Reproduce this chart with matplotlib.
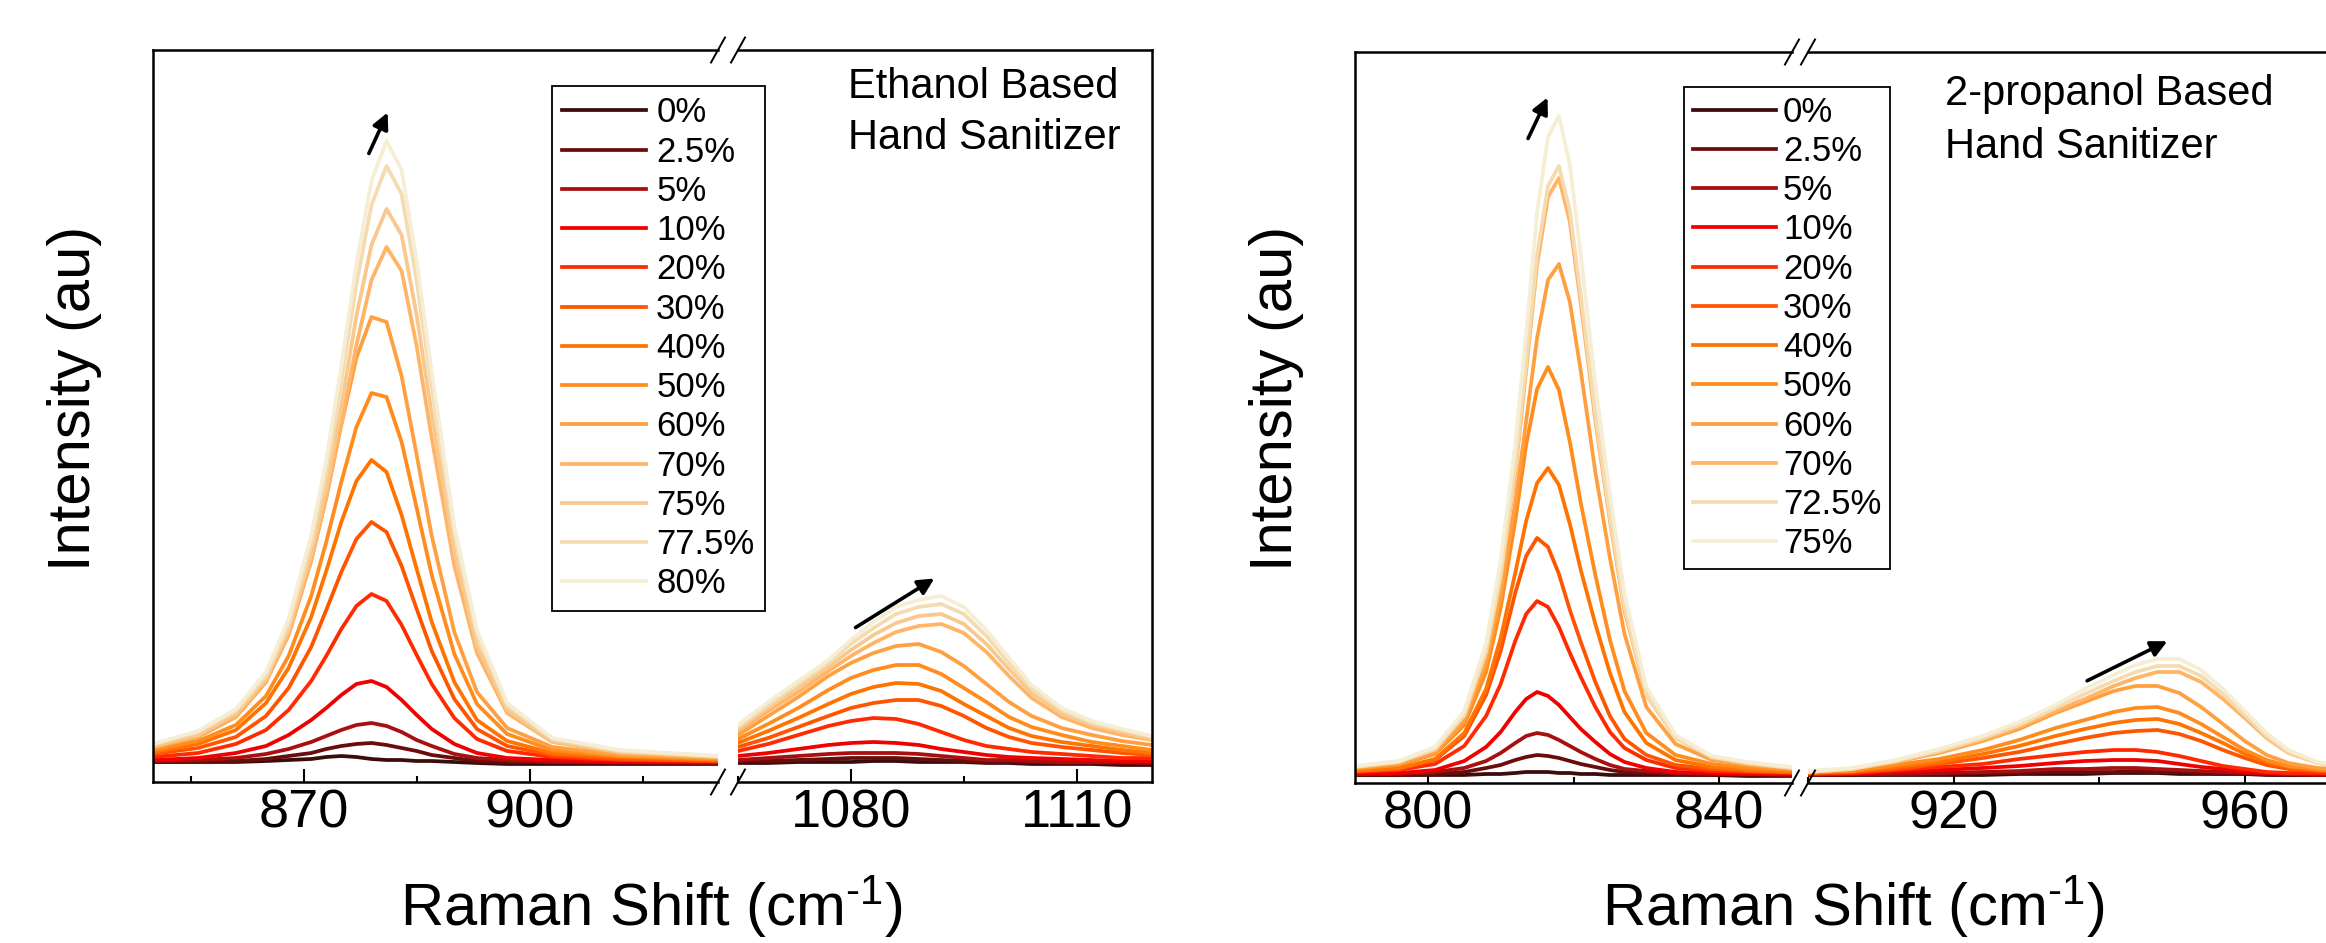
import matplotlib.pyplot as plt

plt.rcParams['font.family'] = ['Liberation Sans', 'DejaVu Sans']
plt.rcParams['mathtext.fontset'] = 'custom'
plt.rcParams['mathtext.rm'] = 'Liberation Sans'
plt.rcParams['mathtext.it'] = 'Liberation Sans:italic'

# ---------------- Ethanol based hand sanitizer ----------------
eth_labels = ['0%', '2.5%', '5%', '10%', '20%', '30%', '40%', '50%',
              '60%', '70%', '75%', '77.5%', '80%']
eth_colors = ['#3a0c0c', '#6b0c0c', '#a80f0f', '#f00000', '#ff2a00', '#ff5500',
              '#ff7400', '#ff8c1c', '#ffa040', '#ffb466', '#f8c88e', '#f4dcb0', '#f5eed4']

# band around 880 cm-1
eth_x1 = [850, 856, 861, 865, 868, 871, 873, 875, 877, 879, 881, 883, 885, 887,
          890, 893, 897, 903, 912, 925]
eth_y1 = [
    [20, 20, 20, 21, 22, 23, 25, 26, 25, 23, 22, 22, 21, 21, 20, 19, 18, 18, 18, 18],
    [20, 20, 21, 23, 26, 29, 33, 36, 38, 39, 37, 34, 31, 27, 24, 21, 20, 20, 19, 19],
    [21, 22, 24, 28, 33, 40, 46, 52, 57, 59, 56, 50, 42, 36, 28, 24, 22, 20, 20, 19],
    [22, 24, 29, 36, 47, 62, 74, 87, 98, 101, 95, 82, 67, 53, 38, 29, 24, 22, 20, 20],
    [25, 29, 38, 52, 72, 101, 126, 153, 176, 188, 181, 157, 127, 98, 64, 43, 31, 25, 22, 21],
    [28, 34, 45, 66, 94, 135, 172, 210, 243, 260, 250, 216, 173, 131, 83, 53, 36, 27, 23, 21],
    [30, 38, 52, 79, 114, 165, 211, 260, 301, 322, 310, 267, 213, 160, 100, 62, 41, 29, 25, 22],
    [32, 41, 57, 86, 126, 186, 240, 300, 355, 389, 385, 340, 274, 207, 128, 78, 48, 32, 26, 23],
    [34, 45, 65, 100, 147, 221, 285, 357, 424, 465, 460, 406, 327, 246, 150, 90, 54, 35, 27, 24],
    [35, 46, 66, 101, 148, 222, 284, 358, 437, 502, 535, 511, 436, 344, 216, 129, 69, 40, 29, 25],
    [36, 47, 68, 103, 152, 228, 293, 376, 466, 537, 573, 547, 467, 368, 230, 137, 72, 41, 30, 25],
    [38, 50, 71, 106, 157, 238, 310, 400, 498, 577, 616, 588, 501, 395, 247, 147, 77, 43, 31, 26],
    [38, 51, 73, 110, 163, 247, 322, 416, 518, 601, 641, 612, 521, 410, 256, 152, 79, 44, 32, 26],
]

# band around 1090 cm-1
eth_x2 = [1065, 1069, 1073, 1077, 1080, 1083, 1086, 1089, 1092, 1095, 1098, 1101,
          1104, 1108, 1112, 1116, 1120]
eth_y2 = [
    [19, 19, 20, 20, 20, 21, 21, 20, 20, 20, 19, 19, 18, 18, 18, 17, 17],
    [21, 21, 22, 23, 24, 24, 24, 23, 22, 21, 20, 20, 20, 19, 19, 19, 19],
    [22, 24, 26, 28, 29, 29, 29, 28, 26, 24, 22, 22, 21, 20, 20, 20, 19],
    [26, 29, 33, 37, 39, 40, 39, 37, 33, 30, 27, 25, 24, 23, 22, 21, 21],
    [31, 38, 47, 56, 61, 64, 63, 58, 50, 42, 36, 33, 30, 28, 26, 24, 24],
    [35, 44, 55, 66, 74, 79, 82, 82, 76, 66, 54, 45, 39, 35, 32, 29, 27],
    [39, 51, 64, 78, 88, 95, 99, 98, 91, 78, 66, 54, 46, 40, 36, 32, 29],
    [43, 58, 74, 92, 104, 112, 117, 117, 108, 94, 80, 65, 55, 47, 40, 36, 32],
    [47, 66, 85, 106, 119, 129, 136, 138, 130, 116, 98, 80, 66, 54, 47, 41, 37],
    [51, 71, 90, 111, 126, 139, 150, 156, 158, 149, 130, 106, 84, 65, 54, 47, 42],
    [53, 74, 94, 115, 132, 147, 159, 166, 168, 158, 138, 113, 89, 68, 57, 50, 43],
    [55, 77, 98, 119, 138, 154, 168, 175, 178, 168, 146, 119, 94, 72, 59, 52, 45],
    [57, 80, 101, 122, 142, 160, 175, 182, 186, 175, 152, 124, 97, 74, 61, 53, 46],
]

# ---------------- 2-propanol based hand sanitizer ----------------
prop_labels = ['0%', '2.5%', '5%', '10%', '20%', '30%', '40%', '50%',
               '60%', '70%', '72.5%', '75%']
prop_colors = ['#3a0c0c', '#6b0c0c', '#a80f0f', '#f00000', '#ff2a00', '#ff5500',
               '#ff7400', '#ff8c1c', '#ffa040', '#ffb466', '#f4dcb0', '#f5eed4']

# band around 818 cm-1
prop_x1 = [790, 796, 801, 805, 808, 810, 812, 813.5, 815, 816.5, 818, 819.5, 821,
           823, 825, 827, 830, 834, 839, 844, 850]
prop_y1 = [
    [8, 8, 8, 8, 9, 9, 10, 11, 11, 11, 10, 10, 9, 9, 8, 8, 8, 8, 8, 7, 7],
    [8, 8, 9, 11, 15, 18, 23, 26, 28, 27, 25, 22, 19, 16, 13, 11, 10, 9, 8, 8, 8],
    [9, 9, 11, 15, 22, 30, 40, 47, 50, 48, 43, 37, 31, 24, 18, 14, 12, 10, 9, 9, 8],
    [9, 10, 13, 22, 36, 51, 71, 84, 91, 87, 78, 66, 54, 41, 29, 21, 15, 11, 10, 9, 9],
    [11, 13, 19, 37, 67, 99, 142, 169, 182, 176, 156, 130, 106, 76, 51, 35, 23, 15, 12, 11, 10],
    [12, 14, 23, 47, 88, 132, 190, 227, 245, 236, 209, 173, 141, 101, 67, 44, 28, 18, 14, 12, 11],
    [12, 15, 24, 50, 94, 145, 210, 262, 300, 315, 298, 259, 213, 159, 110, 71, 40, 23, 16, 13, 11],
    [14, 18, 29, 58, 111, 175, 262, 338, 394, 416, 393, 341, 280, 208, 143, 92, 50, 28, 19, 15, 13],
    [15, 19, 30, 62, 120, 188, 280, 362, 445, 503, 519, 481, 412, 311, 225, 149, 76, 39, 23, 18, 14],
    [16, 21, 33, 67, 129, 203, 309, 412, 518, 586, 605, 561, 479, 362, 262, 172, 88, 45, 25, 19, 15],
    [16, 21, 34, 68, 132, 208, 316, 420, 528, 597, 617, 572, 488, 369, 267, 176, 89, 45, 26, 20, 15],
    [17, 22, 36, 72, 140, 222, 338, 450, 570, 646, 667, 618, 528, 399, 288, 189, 96, 48, 27, 21, 16],
]

# band around 950 cm-1
prop_x2 = [900, 906, 912, 918, 924, 929, 934, 938, 942, 945, 948, 951, 954, 957,
           960, 963, 966, 970, 975]
prop_y2 = [
    [8, 8, 8, 8, 8, 9, 9, 9, 10, 10, 10, 9, 9, 9, 9, 8, 8, 8, 8],
    [8, 8, 9, 9, 10, 10, 11, 11, 11, 12, 11, 11, 10, 9, 9, 9, 8, 8, 8],
    [8, 9, 9, 10, 11, 12, 14, 14, 15, 15, 14, 13, 12, 11, 10, 9, 9, 8, 8],
    [9, 9, 11, 13, 15, 17, 20, 22, 23, 23, 22, 19, 16, 14, 11, 10, 9, 9, 9],
    [9, 10, 13, 16, 19, 24, 28, 31, 33, 33, 31, 27, 22, 17, 14, 11, 10, 10, 9],
    [10, 11, 14, 19, 25, 31, 39, 45, 50, 52, 53, 49, 42, 33, 25, 18, 14, 12, 11],
    [10, 12, 16, 21, 29, 37, 47, 54, 60, 63, 64, 59, 50, 40, 29, 21, 16, 13, 11],
    [11, 12, 18, 24, 33, 43, 55, 63, 71, 75, 76, 70, 59, 46, 33, 23, 17, 14, 12],
    [11, 14, 21, 30, 42, 54, 70, 81, 92, 97, 97, 90, 76, 59, 42, 28, 20, 15, 13],
    [11, 14, 21, 31, 43, 56, 72, 84, 97, 105, 111, 111, 101, 84, 65, 45, 30, 20, 15],
    [11, 14, 22, 32, 45, 58, 75, 89, 102, 111, 117, 117, 107, 89, 68, 47, 31, 20, 15],
    [12, 15, 23, 34, 47, 61, 78, 94, 108, 118, 124, 124, 113, 94, 72, 50, 33, 21, 16],
]

W, H = 2326, 943
fig = plt.figure(figsize=(W / 100, H / 100), dpi=100)


def px_axes(x0, x1, y0, y1):
    # rectangle in figure pixels, y measured from the top
    return fig.add_axes([x0 / W, 1 - y1 / H, (x1 - x0) / W, (y1 - y0) / H])


def style_axis(ax, xlim, ylim, major, minor, maj_len, left, right):
    ax.set_xlim(xlim)
    ax.set_ylim(ylim)
    ax.set_yticks([])
    ax.set_xticks(major)
    ax.set_xticks(minor, minor=True)
    ax.tick_params(axis='x', which='major', direction='in', length=maj_len,
                   width=1.5, labelsize=39, pad=5)
    ax.tick_params(axis='x', which='minor', direction='in', length=4.3, width=1.5)
    for s in ax.spines.values():
        s.set_linewidth(1.8)
    ax.spines['left'].set_visible(left)
    ax.spines['right'].set_visible(right)


def break_marks(ax, side):
    # small double-slash marks where the x axis is cut
    bb = ax.get_position()
    dx = 7 / (bb.width * W)
    dy = 12.5 / (bb.height * H)
    for y in (0, 1):
        ax.plot([side - dx, side + dx], [y - dy, y + dy], transform=ax.transAxes,
                color='k', lw=1.4, clip_on=False)


def panel(ax_a, ax_b, xa, ya, xb, yb, colors):
    lines = []
    for i, c in enumerate(colors):
        ln, = ax_a.plot(xa, ya[i], color=c, lw=2.7)
        ax_b.plot(xb, yb[i], color=c, lw=2.7)
        lines.append(ln)
    return lines


# ---- left panel ----
ax1 = px_axes(153, 718, 50, 782)
ax2 = px_axes(738, 1152, 50, 782)
eth_lines = panel(ax1, ax2, eth_x1, eth_y1, eth_x2, eth_y2, eth_colors)
style_axis(ax1, (850, 925), (0, 732), [870, 900], [855, 885, 915], 9.5, True, False)
style_axis(ax2, (1065, 1120), (0, 732), [1080, 1110], [1065, 1095], 9.5, False, True)
break_marks(ax1, 1)
break_marks(ax2, 0)

arrow = dict(arrowstyle='-|>', color='k', lw=2.6, mutation_scale=24)
ax1.annotate('', xy=(881.3, 672), xytext=(878.5, 626), arrowprops=arrow)
ax2.annotate('', xy=(1091.4, 205), xytext=(1080.3, 153), arrowprops=arrow)

leg = fig.legend(eth_lines, eth_labels, loc='upper left',
                 bbox_to_anchor=(552 / W, 1 - 86 / H), borderaxespad=0,
                 fontsize=25, handlelength=2.4, handletextpad=0.3,
                 labelspacing=0.18, borderpad=0.3, fancybox=False,
                 edgecolor='black', framealpha=1)
leg.get_frame().set_linewidth(1.3)

fig.text(848 / W, 1 - 98 / H, 'Ethanol Based', fontsize=30, va='baseline')
fig.text(848 / W, 1 - 149 / H, 'Hand Sanitizer', fontsize=30, va='baseline')

# ---- right panel ----
ax3 = px_axes(1355, 1792, 52, 783)
ax4 = px_axes(1808, 2354, 52, 783)
prop_lines = panel(ax3, ax4, prop_x1, prop_y1, prop_x2, prop_y2, prop_colors)
style_axis(ax3, (790, 850), (0, 731), [800, 840], [820], 6.5, True, False)
style_axis(ax4, (900, 975), (0, 731), [920, 960], [900, 940], 6.5, False, True)
break_marks(ax3, 1)
break_marks(ax4, 0)

ax3.annotate('', xy=(816.6, 688), xytext=(813.6, 642), arrowprops=arrow)
ax4.annotate('', xy=(949.7, 143), xytext=(938.0, 101), arrowprops=arrow)

leg2 = fig.legend(prop_lines, prop_labels, loc='upper left',
                  bbox_to_anchor=(1684 / W, 1 - 87 / H), borderaxespad=0,
                  fontsize=25, handlelength=2.4, handletextpad=0.2,
                  labelspacing=0.18, borderpad=0.25, fancybox=False,
                  edgecolor='black', framealpha=1)
leg2.get_frame().set_linewidth(1.3)

fig.text(1945 / W, 1 - 105 / H, '2-propanol Based', fontsize=30, va='baseline')
fig.text(1945 / W, 1 - 158 / H, 'Hand Sanitizer', fontsize=30, va='baseline')

# ---- axis titles ----
for cx in (651, 1853):
    fig.text(cx / W, 1 - 926 / H, r'Raman Shift (cm$^{\text{-1}}$)', fontsize=43,
             ha='center', va='baseline')
for cx in (74, 1276):
    fig.text(cx / W, 1 - 398 / H, 'Intensity (au)', fontsize=43, rotation=90,
             ha='center', va='center')

fig.savefig('out.png', dpi=100)
